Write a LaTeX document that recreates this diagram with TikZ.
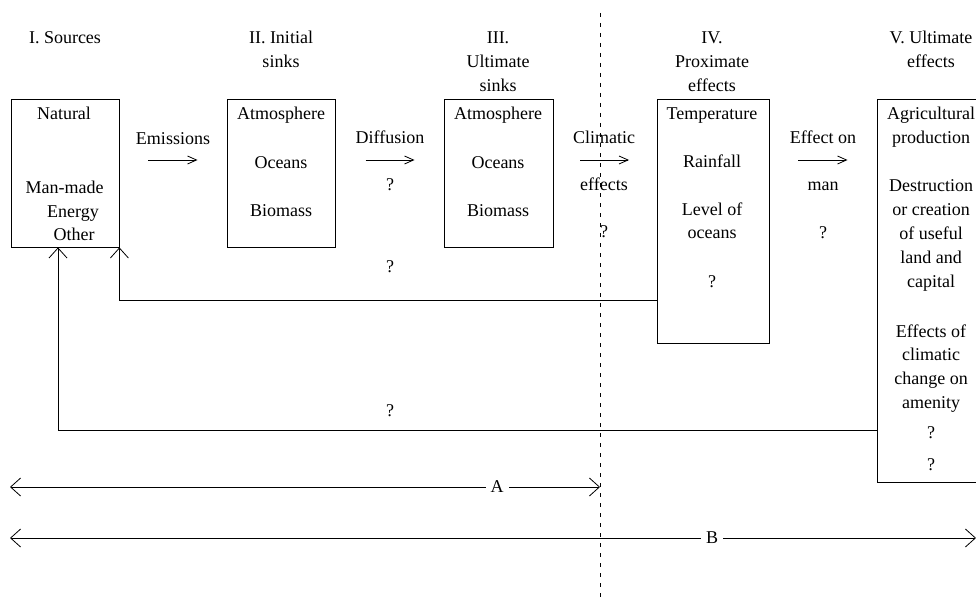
\documentclass[tikz,border=0pt]{standalone}
\usepackage{fontspec}
\setmainfont{Liberation Serif}
\usetikzlibrary{arrows.meta}
\begin{document}
\begin{tikzpicture}[x=1pt,y=-1pt,
  txt/.style={inner sep=0pt, anchor=base, font=\fontsize{18}{24}\selectfont},
  boxnode/.style={draw, line width=0.8pt, rectangle, inner sep=0pt},
  flow/.style={line width=0.8pt, -{Straight Barb[length=9pt,width=8pt]}},
  back/.style={line width=0.8pt, -{Straight Barb[length=10pt,width=18pt]}},
  span/.style={line width=0.8pt, {Straight Barb[length=10pt,width=18pt]}-{Straight Barb[length=10pt,width=18pt]}},
  divider/.style={line width=0.8pt, dash pattern=on 4pt off 6pt},
  tag/.style={inner sep=0pt, anchor=center, font=\fontsize{18}{24}\selectfont, fill=white, inner xsep=5pt, inner ysep=2pt}]
\clip (0,0) rectangle (976,599);
\fill[white] (0,0) rectangle (976,599);

% boxes
\node[boxnode, minimum width=108pt, minimum height=148pt] (b1) at (65,173) {};
\node[boxnode, minimum width=108pt, minimum height=148pt] (b2) at (281,173) {};
\node[boxnode, minimum width=109pt, minimum height=148pt] (b3) at (498.5,173) {};
\node[boxnode, minimum width=112pt, minimum height=244pt] (b4) at (713,221) {};
\node[boxnode, minimum width=108pt, minimum height=383pt] (b5) at (931,290.5) {};

% headers
\node[txt] (h1-1) at (65,44) {I. Sources};
\foreach \t [count=\i] in {II. Initial, sinks}
  \node[txt] (h2-\i) at (281,44+24*\i-24) {\t};
\foreach \t [count=\i] in {III., Ultimate, sinks}
  \node[txt] (h3-\i) at (498,44+24*\i-24) {\t};
\foreach \t [count=\i] in {IV., Proximate, effects}
  \node[txt] (h4-\i) at (712,44+24*\i-24) {\t};
\foreach \t [count=\i] in {V. Ultimate, effects}
  \node[txt] (h5-\i) at (931,44+24*\i-24) {\t};

% box 1
\node[txt] (s1) at (64,120) {Natural};
\node[txt] (s2) at (64.5,193) {Man-made};
\node[txt] (s3) at (73,217) {Energy};
\node[txt] (s4) at (74,240) {Other};

% box 2 and 3
\foreach \t [count=\i] in {Atmosphere, Oceans, Biomass}{
  \node[txt] (i\i) at (281,120+48*\i-48) {\t};
  \node[txt] (u\i) at (498,120+48*\i-48) {\t};
}

% box 4
\node[txt] (p1) at (712,119) {Temperature};
\node[txt] (p2) at (712,167) {Rainfall};
\node[txt] (p3) at (712,215) {Level of};
\node[txt] (p4) at (712,238) {oceans};
\node[txt] (p5) at (712,287) {?};

% box 5
\foreach \t [count=\i] in {Agricultural, production}
  \node[txt] (v1-\i) at (931,119+24*\i-24) {\t};
\foreach \t [count=\i] in {Destruction, or creation, of useful, land and, capital}
  \node[txt] (v2-\i) at (931,191+24*\i-24) {\t};
\foreach \t [count=\i] in {Effects of, climatic, change on, amenity}
  \node[txt] (v3-\i) at (931,337+23.7*\i-23.7) {\t};
\node[txt] (v4) at (931,438) {?};
\node[txt] (v5) at (931,470) {?};

% flow arrows and their labels
\coordinate (e1a) at (148,160); \coordinate (e1b) at (197.5,160);
\coordinate (e2a) at (365.5,160); \coordinate (e2b) at (414.5,160);
\coordinate (e3a) at (580,160); \coordinate (e3b) at (629,160);
\coordinate (e4a) at (798,160); \coordinate (e4b) at (847.5,160);
\draw[flow] (e1a) -- (e1b);
\draw[flow] (e2a) -- (e2b);
\draw[flow] (e3a) -- (e3b);
\draw[flow] (e4a) -- (e4b);
\node[txt] (l1) at (173,144) {Emissions};
\node[txt] (l2) at (390,143) {Diffusion};
\node[txt] (l2q) at (390,190) {?};
\node[txt] (l3) at (604,143) {Climatic};
\node[txt] (l3b) at (604,190) {effects};
\node[txt] (l3q) at (604,237) {?};
\node[txt] (l4) at (823,143) {Effect on};
\node[txt] (l4b) at (823,190) {man};
\node[txt] (l4q) at (823,238) {?};

% feedback connectors
\coordinate (y300) at (0,300);
\coordinate (y430) at (0,430);
\draw[back] (b4.west |- y300) -| (b1.south east);
\draw[back] (b5.west |- y430) -| ([xshift=-7pt]b1.south);
\node[txt] (q1) at (390,272) {?};
\node[txt] (q2) at (390,416) {?};

% dividing line
\coordinate (dT) at (600,13);
\coordinate (dB) at (600,600);
\draw[divider] (dT) -- (dB);

% spans A and B
\coordinate (aL) at (10,487); \coordinate (aR) at (600,487);
\coordinate (bL) at (10,538); \coordinate (bR) at (976,538);
\draw[span] (aL) -- (aR);
\draw[span] (bL) -- (bR);
\node[tag] (la) at (497,487) {A};
\node[tag] (lb) at (712,538) {B};
\end{tikzpicture}
\end{document}
